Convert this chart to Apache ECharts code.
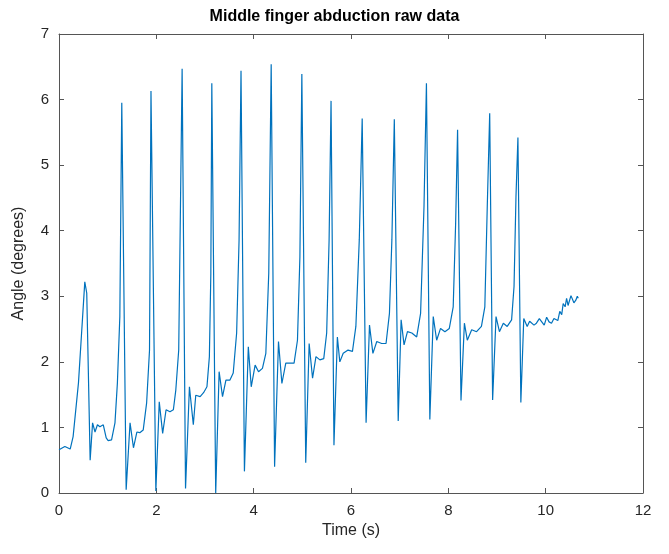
<!DOCTYPE html>
<html>
<head>
<meta charset="utf-8">
<script src="https://cdn.jsdelivr.net/npm/echarts@6/dist/echarts.min.js"></script>
<style>
  html, body { margin: 0; padding: 0; background: #fff; }
  #main { width: 669px; height: 554px; }
</style>
</head>
<body>
<div id="main"></div>
<script>
  // time (s)
  var timeS = [
    0.00, 0.12, 0.23, 0.29, 0.40, 0.53, 0.57, 0.64, 0.69, 0.74, 0.79, 0.84, 0.91, 0.97, 1.01, 1.08, 1.15, 1.20, 1.25, 1.29,
    1.38, 1.46, 1.53, 1.60, 1.66, 1.73, 1.80, 1.86, 1.89,
    1.99, 2.06, 2.13, 2.20, 2.28, 2.35, 2.40, 2.46, 2.53,
    2.60, 2.68, 2.76, 2.81, 2.90, 2.97, 3.04, 3.09, 3.12, 3.14,
    3.22, 3.29, 3.36, 3.43, 3.51, 3.58, 3.65, 3.70, 3.74,
    3.81, 3.89, 3.95, 4.03, 4.10, 4.18, 4.25, 4.31, 4.36,
    4.43, 4.51, 4.58, 4.66, 4.75, 4.83, 4.90, 4.95, 4.99,
    5.07, 5.14, 5.21, 5.28, 5.36, 5.44, 5.50, 5.55, 5.59,
    5.65, 5.72, 5.77, 5.84, 5.94, 6.03, 6.10, 6.17, 6.23,
    6.31, 6.38, 6.45, 6.53, 6.63, 6.72, 6.79, 6.84, 6.89,
    6.97, 7.03, 7.09, 7.16, 7.25, 7.35, 7.43, 7.50, 7.55,
    7.62, 7.69, 7.76, 7.84, 7.93, 8.02, 8.10, 8.15, 8.19,
    8.26, 8.33, 8.39, 8.48, 8.58, 8.68, 8.75, 8.80, 8.85,
    8.91, 8.98, 9.05, 9.13, 9.21, 9.30, 9.35, 9.39, 9.43,
    9.49, 9.55, 9.62, 9.67, 9.71, 9.76, 9.81, 9.87, 9.92, 9.97, 10.02, 10.07, 10.12, 10.17, 10.21, 10.25,
    10.29, 10.33, 10.36, 10.40, 10.43, 10.46, 10.49, 10.52, 10.55, 10.58, 10.62, 10.65, 10.67
  ];
  // angle (degrees)
  var angleDeg = [
    0.66, 0.71, 0.67, 0.86, 1.68, 3.22, 3.05, 0.50, 1.07, 0.93, 1.04, 1.01, 1.04, 0.84, 0.80, 0.81, 1.07, 1.68, 2.69, 5.95,
    0.05, 1.07, 0.69, 0.93, 0.92, 0.96, 1.37, 2.18, 6.13,
    0.03, 1.39, 0.91, 1.27, 1.24, 1.27, 1.57, 2.18, 6.47,
    0.07, 1.62, 1.04, 1.49, 1.47, 1.53, 1.62, 2.08, 3.35, 6.25,
    0.00, 1.85, 1.47, 1.72, 1.72, 1.83, 2.44, 3.86, 6.44,
    0.33, 2.23, 1.62, 1.95, 1.85, 1.90, 2.13, 3.35, 6.54,
    0.40, 2.31, 1.67, 1.98, 1.98, 1.98, 2.33, 3.60, 6.39,
    0.46, 2.28, 1.75, 2.08, 2.03, 2.05, 2.44, 3.86, 5.98,
    0.73, 2.38, 2.00, 2.13, 2.18, 2.16, 2.54, 3.86, 5.71,
    1.07, 2.56, 2.13, 2.31, 2.28, 2.28, 2.74, 3.86, 5.70,
    1.10, 2.64, 2.26, 2.46, 2.44, 2.38, 2.74, 4.37, 6.25,
    1.12, 2.69, 2.33, 2.51, 2.46, 2.51, 2.84, 4.11, 5.54,
    1.41, 2.59, 2.33, 2.49, 2.46, 2.54, 2.84, 4.37, 5.79,
    1.42, 2.69, 2.46, 2.59, 2.54, 2.64, 3.15, 4.52, 5.42,
    1.38, 2.66, 2.54, 2.62, 2.64, 2.56, 2.59, 2.66, 2.61, 2.56, 2.68, 2.61, 2.59, 2.66, 2.69, 2.63,
    2.77, 2.72, 2.89, 2.84, 2.97, 2.86, 2.89, 3.01, 2.98, 2.90, 2.94, 3.00, 2.97
  ];
  var xTicks = [0, 2, 4, 6, 8, 10, 12];
  var yTicks = [0, 1, 2, 3, 4, 5, 6, 7];

  var points = timeS.map(function (t, i) { return [t, angleDeg[i]]; });

  var boxColor = '#555555';
  var font = 'Arial, "Liberation Sans", Helvetica, sans-serif';

  var myChart = echarts.init(document.getElementById('main'));
  var option = {
    backgroundColor: '#ffffff',
    animation: false,
    title: {
      text: 'Middle finger abduction raw data',
      left: 'center',
      top: 4,
      textStyle: { fontFamily: font, fontSize: 16, fontWeight: 'bold', color: '#000' }
    },
    grid: { left: 59, right: 26, top: 34, bottom: 61 },
    xAxis: [
      {
        type: 'value',
        min: xTicks[0], max: xTicks[xTicks.length - 1], interval: 2,
        name: 'Time (s)', nameLocation: 'middle', nameGap: 26,
        nameTextStyle: { fontFamily: font, fontSize: 16, color: '#262626' },
        axisLine: { show: true, onZero: false, lineStyle: { color: boxColor, width: 1 } },
        axisTick: { show: true, inside: true, length: 5, lineStyle: { color: boxColor } },
        axisLabel: { fontFamily: font, fontSize: 15, color: '#262626', margin: 10 },
        splitLine: { show: false }
      },
      {
        type: 'value', position: 'top',
        min: xTicks[0], max: xTicks[xTicks.length - 1], interval: 2,
        axisLine: { show: true, onZero: false, lineStyle: { color: boxColor, width: 1 } },
        axisTick: { show: true, inside: true, length: 5, lineStyle: { color: boxColor } },
        axisLabel: { show: false },
        splitLine: { show: false }
      }
    ],
    yAxis: [
      {
        type: 'value',
        min: yTicks[0], max: yTicks[yTicks.length - 1], interval: 1,
        name: 'Angle (degrees)', nameLocation: 'middle', nameGap: 32, nameRotate: 90,
        nameTextStyle: { fontFamily: font, fontSize: 16, color: '#262626' },
        axisLine: { show: true, onZero: false, lineStyle: { color: boxColor, width: 1 } },
        axisTick: { show: true, inside: true, length: 5, lineStyle: { color: boxColor } },
        axisLabel: { fontFamily: font, fontSize: 15, color: '#262626', margin: 10 },
        splitLine: { show: false }
      },
      {
        type: 'value', position: 'right',
        min: yTicks[0], max: yTicks[yTicks.length - 1], interval: 1,
        axisLine: { show: true, onZero: false, lineStyle: { color: boxColor, width: 1 } },
        axisTick: { show: true, inside: true, length: 5, lineStyle: { color: boxColor } },
        axisLabel: { show: false },
        splitLine: { show: false }
      }
    ],
    series: [
      {
        type: 'line',
        xAxisIndex: 0,
        yAxisIndex: 0,
        data: points,
        showSymbol: false,
        smooth: false,
        lineStyle: { color: '#0072BD', width: 1.2 },
        itemStyle: { color: '#0072BD' }
      }
    ]
  };
  myChart.setOption(option);
</script>
</body>
</html>
